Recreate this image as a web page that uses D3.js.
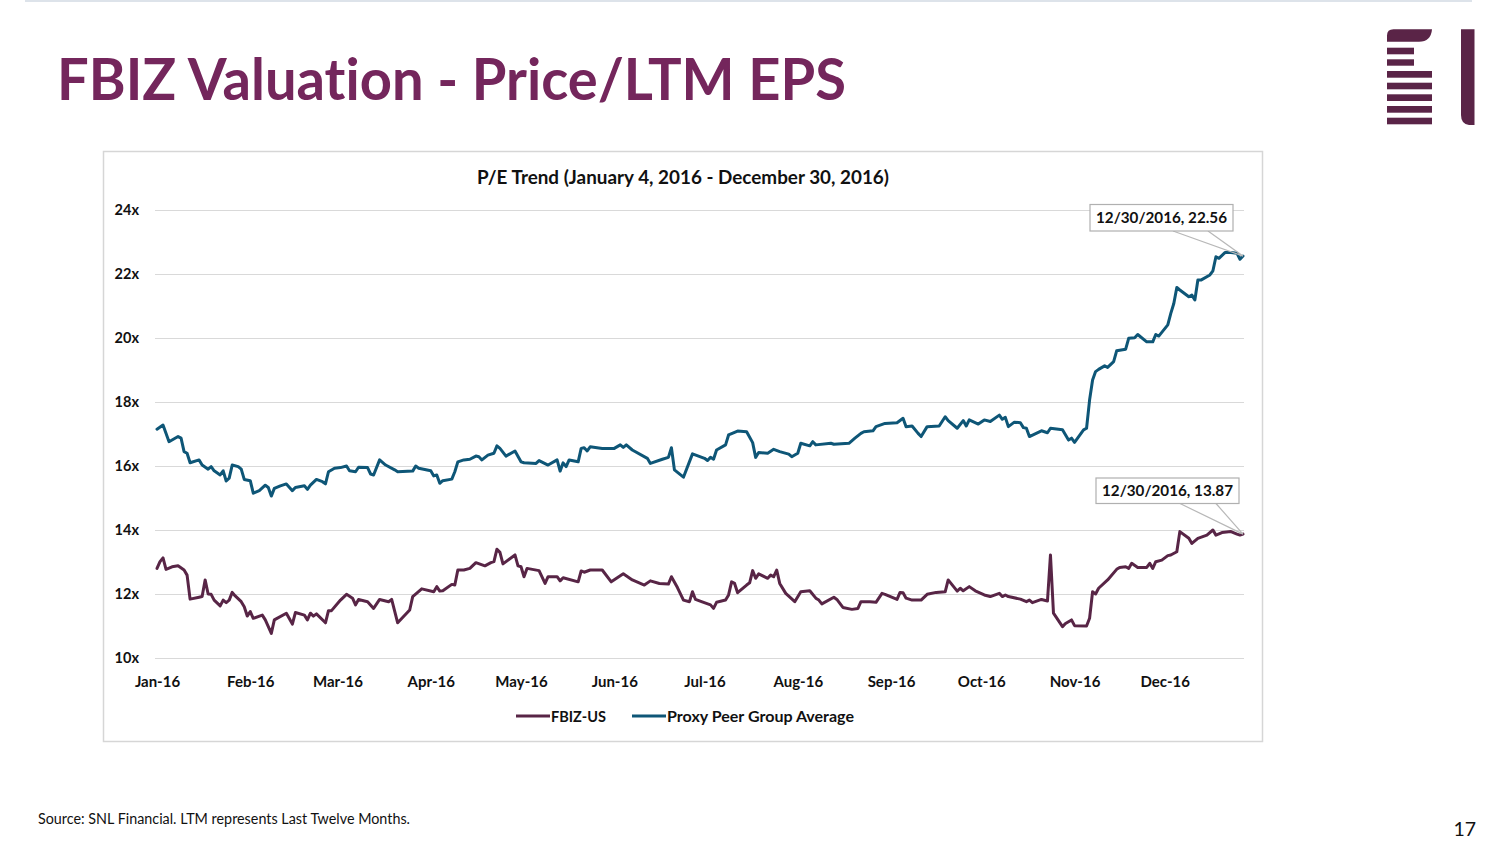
<!DOCTYPE html>
<html>
<head>
<meta charset="utf-8">
<script src="https://cdn.jsdelivr.net/npm/d3@7"></script>
<style>
  html, body { margin: 0; padding: 0; background: #ffffff; }
  svg { display: block; }
  text { font-family: Lato, "Open Sans", "Noto Sans", sans-serif; font-variant-ligatures: none; font-feature-settings: "liga" 0, "clig" 0; }
</style>
</head>
<body>
<svg id="chart" width="1504" height="846"></svg>
<script>
// ---------------- DATA ----------------
const pageTitle = "FBIZ Valuation - Price/LTM EPS";
const chartTitle = "P/E Trend (January 4, 2016 - December 30, 2016)";
const seriesNames = ["FBIZ-US", "Proxy Peer Group Average"];
const sourceNote = "Source: SNL Financial. LTM represents Last Twelve Months.";
const pageNumber = "17";

const yTicks = [10, 12, 14, 16, 18, 20, 22, 24];
const monthTicks = ["01/04","02/04","03/04","04/04","05/04","06/04","07/04","08/04","09/04","10/04","11/04","12/04"];
const dateDomain = ["01/04", "12/30"];

const fbizDates = [
"01/04","01/05","01/06","01/07","01/09","01/11","01/13","01/14","01/15","01/18","01/19","01/20","01/21","01/22","01/23","01/25","01/26","01/27","01/28","01/29","01/30",
"02/01","02/02","02/03","02/04","02/05","02/08","02/09","02/11","02/12","02/16","02/18","02/19","02/22","02/23","02/24","02/25","02/26","02/29",
"03/01","03/02","03/05","03/07","03/09","03/10","03/11","03/14","03/16","03/18","03/21","03/22","03/24","03/28","03/29",
"04/01","04/05","04/06","04/07","04/08","04/11","04/12","04/13","04/15","04/17","04/19","04/22","04/24","04/25","04/26","04/27","04/28",
"05/02","05/03","05/04","05/05","05/06","05/10","05/12","05/13","05/16","05/17","05/18","05/23","05/24","05/25","05/27","05/31",
"06/03","06/07","06/10","06/14","06/16","06/19","06/22","06/23","06/25","06/27","06/29","06/30",
"07/01","07/03","07/06","07/07","07/08","07/11","07/12","07/13","07/14","07/15","07/18","07/19","07/20","07/21","07/22","07/25","07/26","07/27","07/28","07/29","07/31",
"08/03","08/05","08/08","08/10","08/11","08/12","08/16","08/17","08/19","08/22","08/24","08/25","08/28","08/30",
"09/01","09/02","09/06","09/07","09/08","09/09","09/11","09/14","09/16","09/19","09/22","09/23","09/26","09/27","09/28","09/30",
"10/02","10/05","10/07","10/10","10/11","10/12","10/13","10/17","10/19","10/20","10/21","10/24","10/26","10/27","10/28","10/31",
"11/01","11/03","11/04","11/08","11/09","11/10","11/11","11/12","11/15","11/18","11/19","11/21","11/22","11/23","11/25","11/28","11/29","11/30",
"12/01","12/03","12/05","12/06","12/08","12/09","12/12","12/13","12/15","12/18","12/20","12/21","12/23","12/26","12/28","12/29","12/30"
];
const fbizValues = [
12.80,13.01,13.13,12.77,12.85,12.88,12.75,12.59,11.84,11.90,11.92,12.44,12.00,11.99,11.81,11.63,11.81,11.73,11.81,12.05,11.94,
11.76,11.60,11.31,11.45,11.24,11.34,11.19,10.77,11.19,11.40,11.06,11.42,11.34,11.19,11.40,11.31,11.38,11.10,
11.48,11.48,11.81,11.99,11.87,11.66,11.83,11.76,11.55,11.83,11.76,11.83,11.10,11.50,11.92,
12.16,12.07,12.23,12.09,12.10,12.30,12.28,12.75,12.75,12.80,12.98,12.88,12.98,13.01,13.40,13.30,12.94,
13.22,12.88,12.85,12.54,12.80,12.73,12.33,12.54,12.54,12.41,12.51,12.38,12.72,12.68,12.75,12.75,
12.38,12.63,12.44,12.28,12.41,12.33,12.31,12.54,12.20,11.81,11.76,12.07,
11.83,11.76,11.66,11.55,11.74,11.81,11.97,12.38,12.33,12.04,12.28,12.35,12.73,12.49,12.63,12.49,12.59,12.54,12.75,12.33,12.02,
11.76,12.07,12.10,11.87,11.81,11.69,11.90,11.83,11.58,11.52,11.55,11.76,11.76,11.74,
12.02,11.99,11.83,12.05,12.04,11.87,11.81,11.81,11.99,12.05,12.07,12.44,12.09,12.18,12.10,12.23,
12.10,11.97,11.92,12.02,11.92,11.97,11.92,11.84,11.76,11.81,11.73,11.83,11.78,13.22,11.40,10.98,
11.08,11.19,11.01,11.00,11.24,12.07,12.00,12.18,12.44,12.77,12.83,12.85,12.80,12.96,12.83,12.83,12.96,12.80,
13.01,13.06,13.20,13.22,13.32,13.95,13.74,13.58,13.74,13.84,14.00,13.84,13.92,13.95,13.87,13.84,13.87
];

const peerDates = [
"01/04","01/06","01/08","01/11","01/12","01/13","01/14","01/15","01/18","01/19","01/21","01/22","01/23","01/25","01/26","01/27","01/28","01/29","01/31",
"02/01","02/02","02/04","02/05","02/07","02/09","02/10","02/11","02/12","02/14","02/16","02/18","02/19","02/22","02/23","02/24","02/26","02/28","02/29",
"03/01","03/03","03/05","03/07","03/08","03/10","03/11","03/14","03/15","03/16","03/18","03/20","03/23","03/24","03/29","03/30","03/31",
"04/04","04/05","04/06","04/07","04/08","04/11","04/12","04/13","04/15","04/17","04/19","04/20","04/21","04/23","04/25","04/26","04/27","04/29",
"05/02","05/04","05/05","05/09","05/10","05/13","05/16","05/17","05/18","05/19","05/20","05/23","05/24","05/25","05/26","05/27","05/31",
"06/04","06/06","06/07","06/08","06/10","06/15","06/16","06/20","06/22","06/23","06/24","06/27","06/30",
"07/04","07/05","07/06","07/07","07/08","07/11","07/12","07/15","07/18","07/20","07/21","07/22","07/25","07/27","07/29",
"08/01","08/02","08/04","08/05","08/08","08/09","08/10","08/15","08/16","08/21","08/23","08/25","08/26","08/29","08/30",
"09/02","09/06","09/08","09/09","09/11","09/13","09/14","09/16","09/20","09/22","09/23","09/26","09/28","09/29","09/30",
"10/03","10/05","10/07","10/10","10/11","10/12","10/13","10/15","10/17","10/18","10/19","10/20","10/24","10/26","10/27","10/31",
"11/02","11/03","11/04","11/07","11/08","11/09","11/10","11/11","11/12","11/14","11/15","11/17","11/18","11/21","11/22","11/24","11/25","11/28","11/30",
"12/01","12/02","12/05","12/06","12/07","12/08","12/09","12/12","12/13","12/14","12/15","12/16","12/19","12/20","12/21","12/22","12/24","12/26","12/28","12/29","12/30"
];
const peerValues = [
17.15,17.28,16.76,16.92,16.87,16.45,16.40,16.10,16.19,16.03,15.90,15.98,15.85,15.72,15.85,15.53,15.62,16.03,15.98,
15.90,15.58,15.54,15.15,15.23,15.40,15.33,15.06,15.30,15.38,15.44,15.23,15.33,15.38,15.27,15.40,15.58,15.51,15.44,
15.82,15.93,15.95,16.00,15.85,15.82,15.96,15.95,15.75,15.72,16.19,16.03,15.88,15.82,15.84,16.00,15.93,
15.85,15.69,15.72,15.46,15.54,15.59,15.82,16.13,16.19,16.21,16.31,16.29,16.19,16.34,16.40,16.63,16.55,16.31,
16.47,16.13,16.10,16.08,16.17,16.03,16.19,15.84,16.10,15.98,16.19,16.13,16.55,16.57,16.47,16.60,16.55,
16.55,16.66,16.58,16.66,16.50,16.24,16.08,16.21,16.27,16.57,15.88,15.65,16.38,
16.24,16.17,16.27,16.21,16.50,16.66,16.97,17.09,17.07,16.73,16.27,16.42,16.40,16.52,16.45,
16.37,16.29,16.40,16.71,16.63,16.76,16.66,16.71,16.68,16.71,16.87,17.02,17.07,17.10,17.23,
17.33,17.35,17.49,17.23,17.25,17.02,16.92,17.23,17.25,17.54,17.42,17.18,17.42,17.25,17.44,
17.31,17.44,17.39,17.59,17.46,17.52,17.23,17.37,17.35,17.20,17.18,16.92,17.10,17.04,17.18,17.13,
16.81,16.87,16.74,17.13,17.18,18.06,18.69,18.95,19.02,19.13,19.08,19.26,19.60,19.65,19.99,20.01,20.11,19.88,19.88,
20.11,20.06,20.41,20.77,21.08,21.58,21.50,21.29,21.34,21.19,21.81,21.81,21.97,22.10,22.54,22.49,22.67,22.67,22.65,22.46,22.56
];

const annotations = [
  { series: 1, date: "12/30", value: 22.56, label: "12/30/2016, 22.56" },
  { series: 0, date: "12/30", value: 13.87, label: "12/30/2016, 13.87" }
];

// ---------------- RENDER ----------------
const parse = s => d3.timeParse("%m/%d/%Y")(s + "/2016");
const colors = ["#582546", "#0e5677"];
const purple = "#74265c";

const svg = d3.select("#chart");

function fit(sel, w) {
  const n = sel.node();
  const cur = n.getComputedTextLength();
  if (Math.abs(cur - w) / w > 0.01) {
    sel.attr("textLength", w).attr("lengthAdjust", "spacingAndGlyphs");
  }
  return sel;
}

// top rule
svg.append("line").attr("x1", 25).attr("x2", 1472).attr("y1", 1).attr("y2", 1)
  .attr("stroke", "#dde3ea").attr("stroke-width", 2);

// page title
fit(svg.append("text").attr("x", 57).attr("y", 100)
  .attr("font-size", 58).attr("font-weight", 700).attr("fill", purple)
  .text(pageTitle), 789);

// logo
const logo = svg.append("g").attr("fill", "#5a2447");
logo.append("path").attr("d", "M1387,41.7 L1387,35.5 Q1387,29.3 1393.5,29.3 L1432,29.3 Q1431,41.7 1419,41.7 Z");
[[47.7, 54.3, 1414], [59.3, 65.7, 1414], [71, 77.7, 1432], [82.7, 89.3, 1432], [94.3, 101, 1432], [106, 112.7, 1432], [117.7, 124.3, 1432]]
  .forEach(([y0, y1, x1]) => logo.append("rect").attr("x", 1387).attr("y", y0).attr("width", x1 - 1387).attr("height", y1 - y0));
logo.append("path").attr("d", "M1461,29.3 L1474.5,29.3 L1474.5,125 L1469,125 Q1461,124 1461,115 Z");

// chart frame
svg.append("rect").attr("x", 103.5).attr("y", 151.5).attr("width", 1159).attr("height", 590)
  .attr("fill", "#fff").attr("stroke", "#d6d6d6").attr("stroke-width", 1.5);

// chart title
fit(svg.append("text").attr("x", 683).attr("y", 184).attr("text-anchor", "middle")
  .attr("font-size", 18.5).attr("font-weight", 700).attr("fill", "#111")
  .text(chartTitle), 412);

const x = d3.scaleTime().domain(dateDomain.map(parse)).range([157, 1243]);
const y = d3.scaleLinear().domain([10, 24]).range([658, 210]);

// y axis + gridlines
const gy = svg.append("g").attr("transform", "translate(155,0)")
  .call(d3.axisLeft(y).tickValues(yTicks).tickFormat(d => d + "x").tickSize(-1089).tickPadding(16));
gy.select(".domain").remove();
gy.selectAll(".tick line").attr("stroke", "#d9d9d9").attr("stroke-width", 1);
gy.selectAll(".tick text").attr("font-family", "Lato, sans-serif").attr("font-size", 14.5)
  .attr("font-weight", 700).attr("fill", "#111");

// x axis
const gx = svg.append("g").attr("transform", "translate(0,658)")
  .call(d3.axisBottom(x).tickValues(monthTicks.map(parse)).tickFormat(d3.timeFormat("%b-%y")).tickSize(0).tickPadding(18));
gx.select(".domain").remove();
gx.selectAll(".tick text").attr("font-family", "Lato, sans-serif").attr("font-size", 15)
  .attr("font-weight", 700).attr("fill", "#111");

// lines
const series = [
  fbizDates.map((d, i) => ({ date: parse(d), value: fbizValues[i] })),
  peerDates.map((d, i) => ({ date: parse(d), value: peerValues[i] }))
];
const line = d3.line().x(d => x(d.date)).y(d => y(d.value));
series.forEach((s, i) => {
  svg.append("path").datum(s).attr("d", line).attr("fill", "none")
    .attr("stroke", colors[i]).attr("stroke-width", 3)
    .attr("stroke-linejoin", "round").attr("stroke-linecap", "round");
});

// annotations (callouts)
const boxes = [
  { x0: 1090, y0: 204.5, w: 143, h: 26.5, tx: [1173, 1208] },
  { x0: 1096, y0: 478, w: 143, h: 25.5, tx: [1180, 1216] }
];
annotations.forEach((a, i) => {
  const b = boxes[i];
  const px = x(parse(a.date)), py = y(a.value);
  const g = svg.append("g");
  g.append("path")
    .attr("d", `M${b.tx[0]},${b.y0 + b.h} L${px},${py} L${b.tx[1]},${b.y0 + b.h}`)
    .attr("fill", "#fff").attr("fill-opacity", 0).attr("stroke", "#b8b8b8").attr("stroke-width", 1.2);
  g.append("rect").attr("x", b.x0).attr("y", b.y0).attr("width", b.w).attr("height", b.h)
    .attr("fill", "#fff").attr("stroke", "#b0b0b0").attr("stroke-width", 1.2);
  fit(g.append("text").attr("x", b.x0 + b.w / 2).attr("y", b.y0 + b.h / 2 + 5.5)
    .attr("text-anchor", "middle").attr("font-size", 16).attr("font-weight", 700).attr("fill", "#111")
    .text(a.label), 131);
});

// legend
const legendItems = [
  { x0: 516, x1: 550, tx: 551, w: 55 },
  { x0: 632, x1: 666, tx: 667, w: 187 }
];
legendItems.forEach((l, i) => {
  svg.append("line").attr("x1", l.x0).attr("x2", l.x1).attr("y1", 716).attr("y2", 716)
    .attr("stroke", colors[i]).attr("stroke-width", 3);
  fit(svg.append("text").attr("x", l.tx).attr("y", 721.5).attr("font-size", 15).attr("font-weight", 700)
    .attr("fill", "#111").text(seriesNames[i]), l.w);
});

// source & page number
fit(svg.append("text").attr("x", 38).attr("y", 824).attr("font-size", 14.5).attr("fill", "#111")
  .text(sourceNote), 372);
svg.append("text").attr("x", 1476).attr("y", 836).attr("text-anchor", "end")
  .attr("font-size", 19.5).attr("fill", "#111").text(pageNumber);
</script>
</body>
</html>
